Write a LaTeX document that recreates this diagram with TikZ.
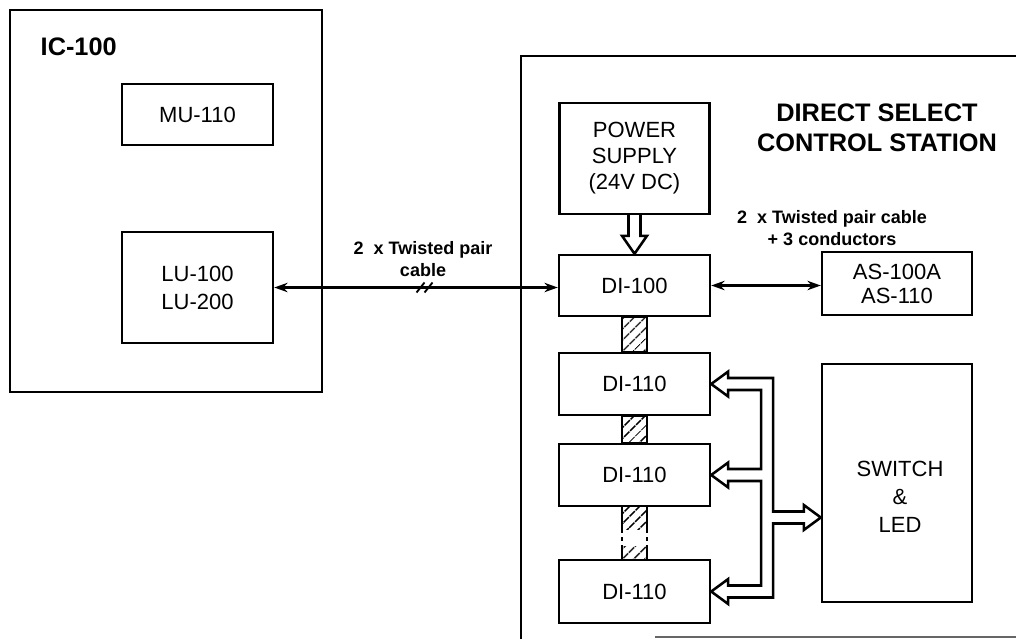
\documentclass[tikz,border=0pt]{standalone}
\usepackage{fontspec}
\setmainfont{Liberation Sans}
\usetikzlibrary{arrows.meta,patterns.meta,calc}
\begin{document}
\begin{tikzpicture}[x=0.75pt,y=-0.75pt,
  wh/.style 2 args={minimum width=#1*0.75pt, minimum height=#2*0.75pt},
  box/.style={draw, line width=1.8pt, inner sep=0pt, align=center, font=\fontsize{16.5}{20}\selectfont},
  txt/.style={align=center, font=\fontsize{16.5}{21}\selectfont},
  cable/.style={line width=1.8pt, {Stealth[length=10pt,width=7pt]}-{Stealth[length=10pt,width=7pt]}},
  lbl/.style={align=center, font=\bfseries\fontsize{13.5}{16}\selectfont},
  ttl/.style={align=center, font=\bfseries\fontsize{19}{22.5}\selectfont},
  hatch/.style={draw, line width=1.5pt, pattern={Lines[angle=45,distance=6.5pt,line width=1.3pt]}},
  hollow/.style={draw, line width=1.9pt, fill=white, line join=miter},
]
\useasboundingbox (0,0) rectangle (1016,639);
\clip (0,0) rectangle (1016,639);
\fill[white] (0,0) rectangle (1016,639);

% IC-100 unit
\node[box, wh={312}{382}] (ic) at (166,201) {};
\node[ttl, anchor=west] (ict) at (36,47) {IC-100};
\node[box, wh={151}{61}] (mu) at (197.5,114.5) {MU-110};
\node[box, wh={151}{111}, font=\fontsize{16.5}{21}\selectfont] (lu) at (197.5,287.5) {LU-100\\LU-200};

% station frame
\draw[line width=2pt] (521,639) -- (521,56) -- (1030,56);
\draw[line width=1pt, black!60] (655,637) -- (1030,637);

\node[ttl] (dsc) at (877,128) {DIRECT SELECT\\CONTROL STATION};
\node[box, wh={150}{111}, font=\fontsize{16.5}{19.5}\selectfont] (ps) at (634.5,158.5) {POWER\\SUPPLY\\(24V DC)};
\node[box, wh={151}{61}] (di) at (634.5,285.5) {DI-100};
\node[box, wh={150}{63}, font=\fontsize{16.5}{18}\selectfont] (as) at (897,283.5) {AS-100A\\AS-110};
\node[box, wh={151}{62}] (d1) at (634.5,384) {DI-110};
\node[box, wh={151}{62}] (d2) at (634.5,475) {DI-110};
\node[box, wh={151}{63}] (d3) at (634.5,591.5) {DI-110};
\node[box, wh={150}{238}] (sw) at (897,483) {};
\node[txt] (swt) at (900,497) {SWITCH\\\&\\LED};

% cable labels
\node[lbl] (c1) at (423,259) {2~ x Twisted pair\\cable};
\node[lbl] (c2) at (832,228) {2~ x Twisted pair cable\\+ 3 conductors};

% cables
\draw[cable] (lu.east) -- coordinate[pos=0.53] (tw) (lu.east -| di.west);
\draw[line width=1.4pt] ($(tw)+(-8,5)$) -- ++(8,-10) ($(tw)+(0,5)$) -- ++(8,-10);
\draw[cable] (di.east) -- (di.east -| as.west);

% power arrow
\draw[hollow] ($(ps.south)+(-6,0)$) -- ($(di.north)+(-6,-18)$) -- ++(-6.5,0) -- (di.north)
  -- ($(di.north)+(12.5,-18)$) -- ++(-6.5,0) -- ($(ps.south)+(6,0)$);

% hatched links
\draw[hatch] ($(di.south)+(-12.5,0)$) rectangle ($(d1.north)+(12.5,0)$);
\draw[hatch] ($(d1.south)+(-12.5,0)$) rectangle ($(d2.north)+(12.5,0)$);
\path[pattern={Lines[angle=45,distance=6.5pt,line width=1.3pt]}] ($(d2.south)+(-12.5,0)$) rectangle ($(d2.south)+(12.5,22)$);
\path[pattern={Lines[angle=45,distance=6.5pt,line width=1.3pt]}] ($(d3.north)+(-12.5,-12)$) rectangle ($(d3.north)+(12.5,0)$);
\draw[line width=1.5pt] ($(d2.south)+(-12.5,0)$) -- ++(0,22) ($(d2.south)+(12.5,0)$) -- ++(0,22)
  ($(d3.north)+(-12.5,-12)$) -- ++(0,12) ($(d3.north)+(12.5,-12)$) -- ++(0,12);
\draw[line width=1pt, dashed] ($(d2.south)+(-12.5,22)$) -- ($(d3.north)+(-12.5,-12)$)
  ($(d2.south)+(12.5,22)$) -- ($(d3.north)+(12.5,-12)$);

% bus
\coordinate (swin) at ($(sw.west)+(0,34.5)$);
\draw[hollow] (d1.east) -- ++(17,-12.5) -- ++(0,6.5) -- ++(45,0) |- ($(swin)+(-17,-6)$)
  -- ++(0,-6.5) -- (swin) -- ++(-17,12.5) -- ++(0,-6.5) -| ($(d3.east)+(62,6)$)
  -- ++(-45,0) -- ++(0,6.5) -- (d3.east) -- ++(17,-12.5) -- ++(0,6.5) -- ++(33,0)
  |- ($(d2.east)+(50,6)$) -- ++(-33,0) -- ++(0,6.5) -- (d2.east) -- ++(17,-12.5)
  -- ++(0,6.5) -- ++(33,0) |- ($(d1.east)+(17,6)$) -- ++(0,6.5) -- cycle;
\end{tikzpicture}
\end{document}
